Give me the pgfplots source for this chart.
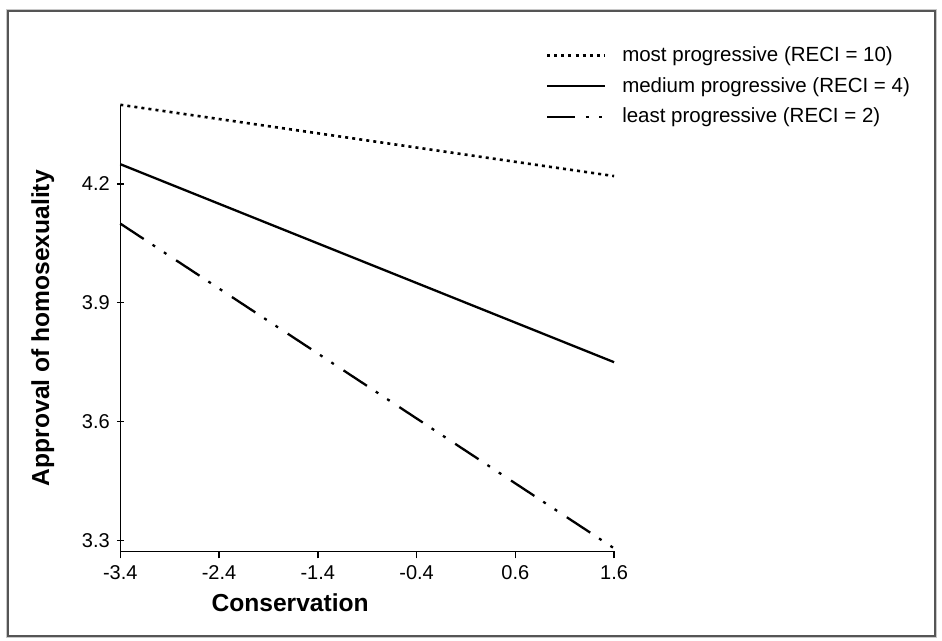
\documentclass[border=0pt]{standalone}
\usepackage{fontspec}
\setmainfont{Liberation Sans}
\usepackage{pgfplots}
\pgfplotsset{compat=1.18}
\definecolor{framegray}{RGB}{85,85,85}
\definecolor{framelight}{RGB}{200,200,200}
\begin{document}
\begin{tikzpicture}
\path[use as bounding box] (-60.15pt,-44.75pt) rectangle (410.85pt,275.75pt);
% frame
\draw[line width=0.6pt, framelight] (-57pt,-43pt) rectangle (408.1pt,271pt);
\draw[line width=1pt, framegray] (-56.2pt,-42.2pt) rectangle (407.3pt,270.2pt);
\begin{axis}[
  scale only axis, width=246.9pt, height=223.35pt,
  xmin=-3.4, xmax=1.6, ymin=3.272, ymax=4.40,
  clip=false,
  axis x line=bottom, axis y line=left,
  axis line style={-, line width=0.7pt},
  every tick/.style={black, line width=0.7pt},
  major tick length=3.5pt,
  xtick align=outside, ytick align=center,
  xtick={-3.4,-2.4,-1.4,-0.4,0.6,1.6},
  xticklabels={-3.4,-2.4,-1.4,-0.4,0.6,1.6},
  ytick={3.3,3.6,3.9,4.2},
  yticklabels={3.3,3.6,3.9,4.2},
  tick label style={font=\fontsize{10}{12}\selectfont},
  xlabel={\textbf{Conservation}},
  ylabel={\textbf{Approval of homosexuality}},
  label style={font=\fontsize{12.3}{14}\selectfont},
  xlabel style={at={(axis description cs:0.344,-0.114)}, anchor=center},
  ylabel style={at={(axis description cs:-0.157,0.5)}, anchor=center},
  legend style={draw=none, fill=none, at={(axis description cs:0.861,1.14)},
    anchor=north west, inner sep=0pt, font=\fontsize{10.25}{12}\selectfont,
    row sep=2.4pt, cells={anchor=west},
    /tikz/every odd column/.append style={column sep=6.2pt}},
  legend image code/.code={\draw[#1] (0pt,0pt) -- (28.7pt,0pt);},
]
\addplot[black, line width=1.3pt, dash pattern=on 1.5pt off 2.05pt] coordinates {(-3.4,4.40) (1.6,4.22)};
\addlegendentry{most progressive (RECI = 10)}
\addplot[black, line width=1.15pt] coordinates {(-3.4,4.25) (1.6,3.75)};
\addlegendentry{medium progressive (RECI = 4)}
\addplot[black, line width=1.15pt, dash pattern=on 14pt off 5.3pt on 1.5pt off 5.3pt on 1.5pt off 5.8pt] coordinates {(-3.4,4.10) (1.6,3.28)};
\addlegendentry{least progressive (RECI = 2)}
\end{axis}
\end{tikzpicture}
\end{document}
